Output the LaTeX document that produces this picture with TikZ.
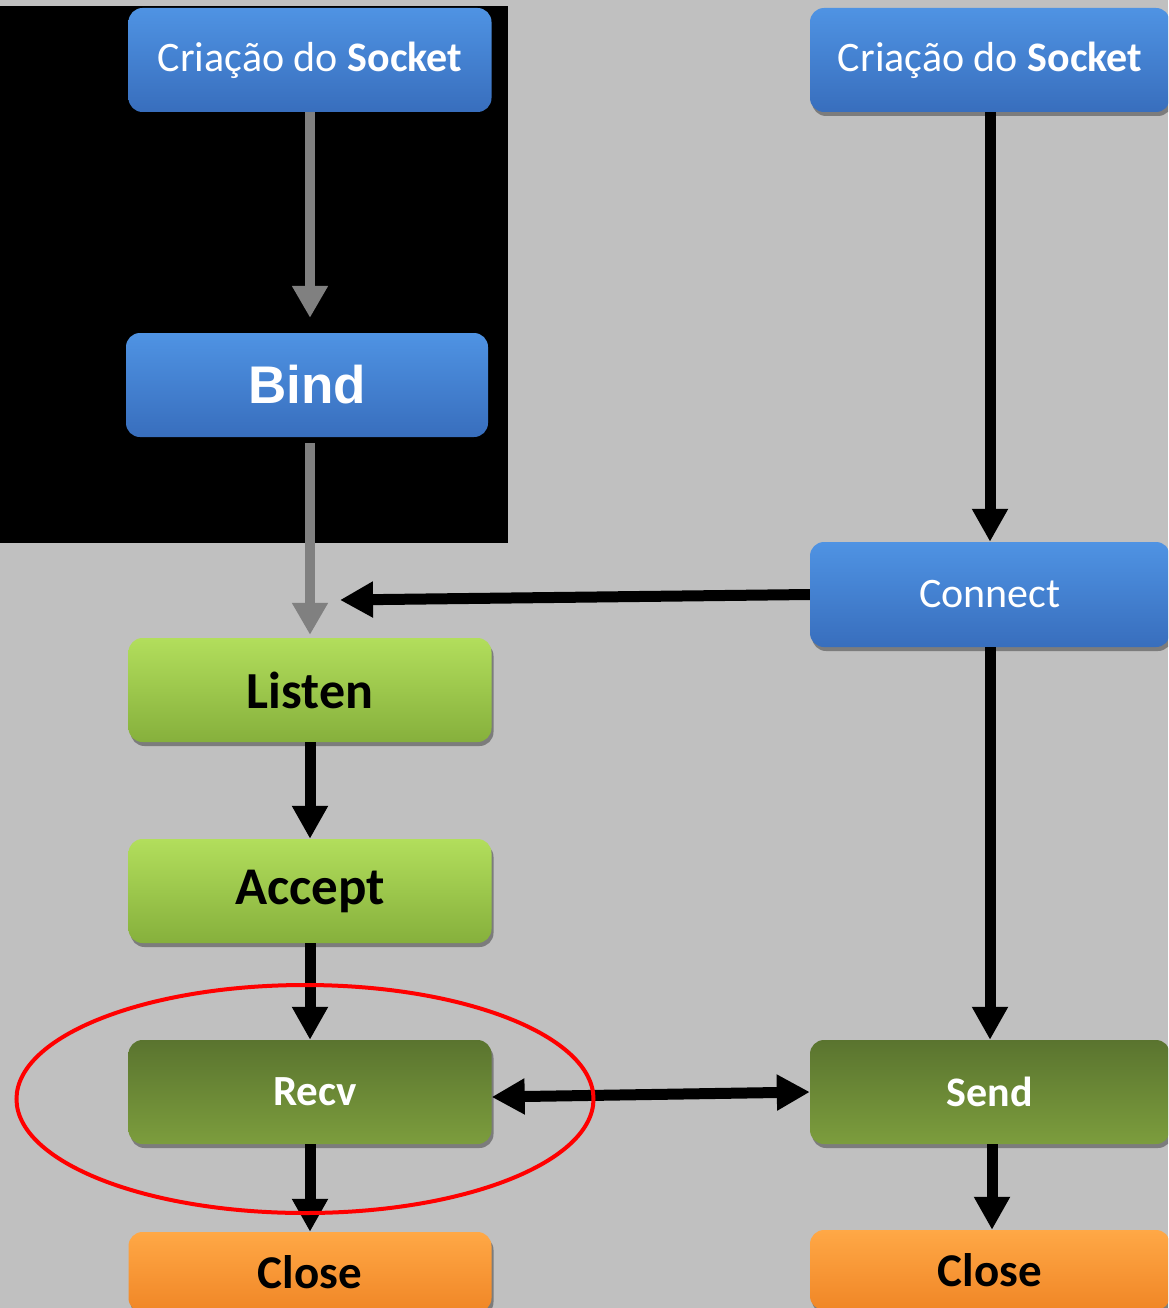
\documentclass[tikz,border=0pt]{standalone}
\usepackage{fontspec}
\setmainfont{Carlito}
\newfontfamily\arialfont{Liberation Sans}
\usetikzlibrary{arrows.meta,shadows,calc,shapes.geometric}

\definecolor{bgGray}{HTML}{C0C0C0}
\definecolor{blueTop}{HTML}{4F93E3}
\definecolor{blueBot}{HTML}{386EBD}
\definecolor{limeTop}{HTML}{B2DE5C}
\definecolor{limeBot}{HTML}{86B03C}
\definecolor{oliveTop}{HTML}{5A742F}
\definecolor{oliveBot}{HTML}{7C9D3D}
\definecolor{orangeTop}{HTML}{FFA846}
\definecolor{orangeBot}{HTML}{F08626}
\definecolor{arrowGray}{HTML}{808080}

\tikzset{
  box/.style={rounded corners=14pt, minimum height=104pt, inner sep=0pt,
    drop shadow={shadow xshift=2pt, shadow yshift=-4pt, opacity=0.35, fill=black}},
  bluebox/.style={box, top color=blueTop, bottom color=blueBot, text=white},
  limebox/.style={box, top color=limeTop, bottom color=limeBot, text=black},
  olivebox/.style={box, top color=oliveTop, bottom color=oliveBot, text=white},
  orangebox/.style={box, top color=orangeTop, bottom color=orangeBot, text=black},
  grayflow/.style={draw=arrowGray, line width=10pt,
    -{Triangle[length=32pt,width=34pt]}},
  blackflow/.style={draw=black, line width=11pt,
    -{Triangle[length=33pt,width=34pt]}},
  bothflow/.style={draw=black, line width=11pt,
    {Triangle[length=33pt,width=34pt]}-{Triangle[length=33pt,width=34pt]}},
}

\begin{document}
\begin{tikzpicture}[x=1pt,y=-1pt]
  \useasboundingbox (0,0) rectangle (1168,1308);
  \clip (0,0) rectangle (1168,1308);
  \fill[bgGray] (0,0) rectangle (1168,1308);
  % dark panel behind the first two server steps
  \fill[black] (0,6) rectangle (508,543);

  % server column
  \node[bluebox, minimum width=363pt, font=\fontsize{42}{46}\selectfont]
    (sockL) at (310,60) {Criação do \textbf{Socket}};
  \node[bluebox, minimum width=362pt, font=\arialfont\bfseries\fontsize{53}{58}\selectfont]
    (bind) at (307,385) {Bind};
  \node[limebox, minimum width=363pt, font=\bfseries\fontsize{52}{56}\selectfont]
    (listen) at (310,690) {Listen};
  \node[limebox, minimum width=363pt, font=\bfseries\fontsize{53}{58}\selectfont]
    (accept) at (310,891) {Accept};
  \node[olivebox, minimum width=363pt, font=\bfseries\fontsize{43}{47}\selectfont]
    (recv) at (310,1092) {\hspace*{10pt}Recv};
  \node[orangebox, minimum width=363pt, minimum height=80pt, font=\bfseries\fontsize{47}{52}\selectfont]
    (closeL) at (310,1272) {Close};

  % client column
  \node[bluebox, minimum width=360pt, font=\fontsize{42}{46}\selectfont]
    (sockR) at (990,60) {Criação do \textbf{Socket}};
  \node[bluebox, minimum width=360pt, minimum height=105pt, font=\fontsize{42}{46}\selectfont]
    (connect) at (990,594.5) {Connect};
  \node[olivebox, minimum width=360pt, font=\bfseries\fontsize{42}{46}\selectfont]
    (send) at (990,1092) {Send};
  \node[orangebox, minimum width=360pt, minimum height=80pt, font=\bfseries\fontsize{47}{52}\selectfont]
    (closeR) at (990,1270) {Close};

  \coordinate (joinpt) at (340,600);

  % connectors
  \draw[grayflow, shorten >=15pt] (listen.north |- sockL.south) -- (listen.north |- bind.north);
  \draw[grayflow, shorten <=6pt, shorten >=3pt] (listen.north |- bind.south) -- (listen.north);
  \draw[blackflow] (sockR.south) -- (connect.north);
  \draw[blackflow] (connect.west) -- (joinpt);
  \draw[blackflow] (connect.south) -- (send.north);
  \draw[blackflow] (listen.south) -- (accept.north);
  \draw[blackflow] (accept.south) -- (recv.north);
  \draw[blackflow] (recv.south) -- (closeL.north);
  \draw[blackflow] ([xshift=2pt]send.south) -- ([xshift=2pt]closeR.north);
  \draw[bothflow] ([yshift=-5pt]recv.east) -- (send.west);

  % highlight around the receive step
  \node[draw=red, line width=4pt, ellipse, minimum width=577pt, minimum height=228pt,
    inner sep=0pt] (mark) at (305,1099) {};
\end{tikzpicture}
\end{document}
